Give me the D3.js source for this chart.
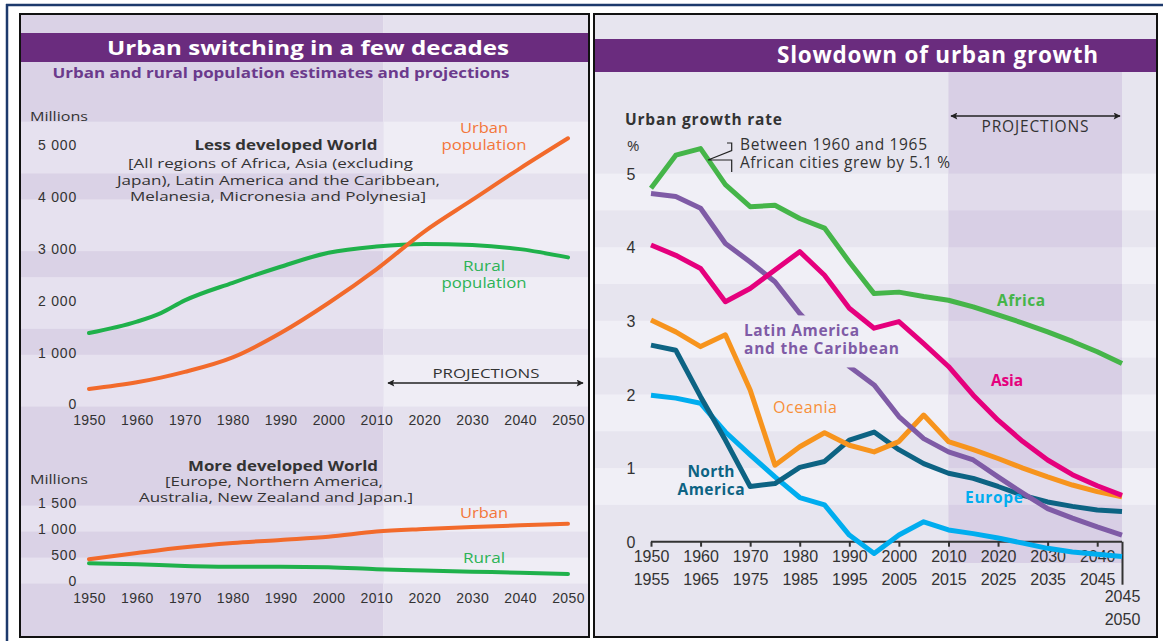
<!DOCTYPE html>
<html><head><meta charset="utf-8">
<script src="https://cdn.jsdelivr.net/npm/d3@7"></script>
<style>
html,body{margin:0;padding:0;background:#fff;}
svg{display:block;font-family:"Open Sans","Noto Sans",sans-serif;}
</style></head><body>
<svg id="chart" width="1163" height="641"></svg>
<script>
// ---------- LEFT PANEL DATA (millions) ----------
const yearsLess = [1950,1960,1965,1970,1980,1990,2000,2010,2020,2030,2040,2050];
const lessUrban = [290,420,510,620,900,1370,1950,2600,3330,3940,4550,5130];
const lessRural = [1370,1590,1755,2000,2340,2650,2920,3040,3090,3070,2990,2830];
const yearsMore = [1950,1960,1970,1980,1990,2000,2010,2020,2030,2040,2050];
const moreUrban = [420,540,650,730,790,850,950,1000,1040,1070,1100];
const moreRural = [340,320,290,275,275,265,225,200,180,160,135];
const yearTicks = [1950,1960,1970,1980,1990,2000,2010,2020,2030,2040,2050];
const lessTicks = [0,1000,2000,3000,4000,5000];
const moreTicks = [0,500,1000,1500];

// ---------- RIGHT PANEL DATA (urban growth rate, %, 5-year periods) ----------
const periods = [1950,1955,1960,1965,1970,1975,1980,1985,1990,1995,2000,2005,2010,2015,2020,2025,2030,2035,2040,2045];
const africa   = [4.80,5.25,5.34,4.85,4.55,4.57,4.39,4.26,3.80,3.37,3.39,3.33,3.28,3.19,3.08,2.97,2.85,2.72,2.58,2.42];
const latinAm  = [4.73,4.69,4.53,4.05,3.80,3.53,3.10,2.75,2.38,2.13,1.70,1.40,1.22,1.11,0.88,0.66,0.45,0.32,0.20,0.09];
const asia     = [4.03,3.89,3.71,3.26,3.44,3.69,3.94,3.62,3.17,2.90,2.99,2.69,2.38,1.99,1.65,1.36,1.11,0.91,0.76,0.63];
const oceania  = [3.01,2.85,2.65,2.81,2.06,1.04,1.29,1.48,1.31,1.22,1.36,1.72,1.36,1.25,1.13,1.00,0.88,0.77,0.68,0.61];
const northAm  = [2.67,2.60,1.97,1.38,0.75,0.79,1.01,1.09,1.38,1.49,1.25,1.06,0.93,0.86,0.75,0.63,0.54,0.48,0.43,0.41];
const europe   = [1.99,1.95,1.88,1.49,1.18,0.88,0.60,0.50,0.09,-0.16,0.09,0.27,0.16,0.11,0.05,-0.02,-0.09,-0.14,-0.17,-0.20];
const rateTicks = [0,1,2,3,4,5];
const periodTicks = [1950,1960,1970,1980,1990,2000,2010,2020,2030,2040,2045];

// ---------- COLOURS ----------
const C = {
  navy:"#1d3a6c", titleBand:"#6a2c7e", subtitle:"#6b3a8c", text:"#333333",
  urban:"#f26a2b", rural:"#1fb14b", urbanTxt:"#f3763a", ruralTxt:"#2cb356",
  histDark:"#dad2e6", histLight:"#e6e1ef", projDark:"#e5e1ee", projLight:"#efedf5",
  rBaseDark:"#e7e5ef", rBaseLight:"#f0eff6", rProjDark:"#d8cfe5", rProjLight:"#e1dbeb",
  africa:"#45b549", latin:"#7f5ba6", asia:"#e5007d", oceania:"#f7941d", oceaniaTxt:"#f7903a",
  northAm:"#0d6383", europe:"#00adef"
};

const svg = d3.select("#chart");
const spaceFmt = d3.formatLocale({decimal:".", thousands:" ", grouping:[3], currency:["",""]}).format(",d");

svg.append("rect").attr("width",1163).attr("height",641).attr("fill","#fff");

function txt(g, x, y, s, opt={}){
  const t = g.append("text").attr("x",x).attr("y",y).attr("dy","0.35em")
    .attr("text-anchor",opt.anchor||"middle").attr("font-size",opt.size||"13.5px")
    .attr("font-weight",opt.bold?"bold":null).attr("fill",opt.fill||C.text).text(s);
  if(opt.len) t.attr("textLength",opt.len).attr("lengthAdjust",opt.stretch?"spacingAndGlyphs":"spacing");
  return t;
}

// ================= LEFT PANEL =================
const L = {x0:20, x1:589, y0:14, y1:637};
const xL = d3.scaleLinear().domain([1950,2050]).range([89,568]);
const yU = d3.scaleLinear().domain([0,5000]).range([404,145]);
const yLo = d3.scaleLinear().domain([0,1500]).range([581,503]);
const projStartL = xL(2011.5);

const left = svg.append("g");
left.append("rect").attr("x",L.x0).attr("y",L.y0).attr("width",projStartL-L.x0).attr("height",L.y1-L.y0).attr("fill",C.histDark);
left.append("rect").attr("x",projStartL).attr("y",L.y0).attr("width",L.x1-projStartL).attr("height",L.y1-L.y0).attr("fill",C.projDark);
const upperBands = [[-50,950],[1450,2450],[2950,3950],[4450,5450]];
const lowerBands = [[-50,450],[950,1450]];
function leftBand(y, b){
  left.append("rect").attr("x",L.x0).attr("width",projStartL-L.x0)
    .attr("y",y(b[1])).attr("height",y(b[0])-y(b[1])).attr("fill",C.histLight);
  left.append("rect").attr("x",projStartL).attr("width",L.x1-projStartL)
    .attr("y",y(b[1])).attr("height",y(b[0])-y(b[1])).attr("fill",C.projLight);
}
upperBands.forEach(b=>leftBand(yU,b));
lowerBands.forEach(b=>leftBand(yLo,b));

left.append("rect").attr("x",L.x0).attr("y",33).attr("width",L.x1-L.x0).attr("height",29).attr("fill",C.titleBand);
const S = {stretch:true};
txt(left,308,48,"Urban switching in a few decades",{...S,fill:"#fff",bold:true,size:"20px",len:402});
txt(left,281,73,"Urban and rural population estimates and projections",{...S,fill:C.subtitle,bold:true,size:"14px",len:457});

// axes
function leftAxes(y, ticks, xAxisY){
  const gy = left.append("g").attr("transform","translate(77,0)")
    .call(d3.axisLeft(y).tickValues(ticks).tickSize(0).tickPadding(0).tickFormat(spaceFmt));
  gy.select(".domain").remove();
  gy.selectAll("text").attr("font-size","14px").attr("letter-spacing","0.8px").attr("fill",C.text).attr("font-family",null).attr("dy","0.35em");
  const gx = left.append("g").attr("transform",`translate(0,${xAxisY})`)
    .call(d3.axisBottom(xL).tickValues(yearTicks).tickSize(0).tickPadding(0).tickFormat(d3.format("d")));
  gx.select(".domain").remove();
  gx.selectAll("text").attr("font-size","14px").attr("letter-spacing","0.4px").attr("fill",C.text).attr("font-family",null).attr("y",0).attr("dy","0.35em");
}
leftAxes(yU, lessTicks, 420);
leftAxes(yLo, moreTicks, 598);

const lineU = (arrX, y) => d3.line().x((d,i)=>xL(arrX[i])).y(d=>y(d)).curve(d3.curveMonotoneX);
function drawL(arrX, vals, y, col){
  left.append("path").datum(vals).attr("d",lineU(arrX,y)).attr("fill","none")
    .attr("stroke",col).attr("stroke-width",4).attr("stroke-linejoin","round").attr("stroke-linecap","round");
}
drawL(yearsLess, lessRural, yU, C.rural);
drawL(yearsLess, lessUrban, yU, C.urban);
drawL(yearsMore, moreRural, yLo, C.rural);
drawL(yearsMore, moreUrban, yLo, C.urban);

txt(left,30,116,"Millions",{...S,anchor:"start",size:"13px",len:58});
txt(left,286,145,"Less developed World",{...S,bold:true,size:"14px",len:183});
txt(left,270.5,163,"[All regions of Africa, Asia (excluding",{...S,len:285});
txt(left,278.5,180,"Japan), Latin America and the Caribbean,",{...S,len:323});
txt(left,278,196,"Melanesia, Micronesia and Polynesia]",{...S,len:296});
txt(left,484,128,"Urban",{...S,fill:C.urbanTxt,size:"14px",len:48});
txt(left,484,145,"population",{...S,fill:C.urbanTxt,size:"14px",len:85});
txt(left,484,266,"Rural",{...S,fill:C.ruralTxt,size:"14px",len:42});
txt(left,484,283,"population",{...S,fill:C.ruralTxt,size:"14px",len:85});
txt(left,486,373,"PROJECTIONS",{...S,size:"13px",len:107});

txt(left,30,479,"Millions",{...S,anchor:"start",size:"13px",len:58});
txt(left,283,466,"More developed World",{...S,bold:true,size:"14px",len:190});
txt(left,274,481,"[Europe, Northern America,",{...S,len:218});
txt(left,276,497,"Australia, New Zealand and Japan.]",{...S,len:274});
txt(left,484,513,"Urban",{...S,fill:C.urbanTxt,size:"14px",len:48});
txt(left,484,558,"Rural",{...S,fill:C.ruralTxt,size:"14px",len:42});

// arrow markers
const defs = svg.append("defs");
defs.append("marker").attr("id","arrow").attr("viewBox","0 0 10 10").attr("refX",9).attr("refY",5)
  .attr("markerWidth",9).attr("markerHeight",7).attr("markerUnits","userSpaceOnUse").attr("orient","auto-start-reverse")
  .append("path").attr("d","M0,0 L10,5 L0,10 L2,5 Z").attr("fill","#222");
left.append("line").attr("x1",388).attr("x2",583).attr("y1",383).attr("y2",383)
  .attr("stroke","#222").attr("stroke-width",1.5).attr("marker-start","url(#arrow)").attr("marker-end","url(#arrow)");

left.append("rect").attr("x",L.x0).attr("y",L.y0).attr("width",L.x1-L.x0).attr("height",L.y1-L.y0)
  .attr("fill","none").attr("stroke","#111").attr("stroke-width",2);

// ================= RIGHT PANEL =================
const R = {x0:594, x1:1157, y0:14, y1:637};
const xR = d3.scaleLinear().domain([1950,2045]).range([651,1122]);
const yR = d3.scaleLinear().domain([0,5]).range([541.7,173.6]);
const right = svg.append("g");
right.append("rect").attr("x",R.x0).attr("y",R.y0).attr("width",R.x1-R.x0).attr("height",R.y1-R.y0).attr("fill",C.rBaseDark);
const rBands = [[0.5,1],[1.5,2],[2.5,3],[3.5,4],[4.5,5]];
rBands.forEach(b=>right.append("rect").attr("x",R.x0).attr("width",R.x1-R.x0)
  .attr("y",yR(b[1])).attr("height",yR(b[0])-yR(b[1])).attr("fill",C.rBaseLight));
const pX0 = xR(2010), pX1 = xR(2045);
right.append("rect").attr("x",pX0).attr("width",pX1-pX0).attr("y",72).attr("height",563-72).attr("fill",C.rProjDark);
rBands.forEach(b=>right.append("rect").attr("x",pX0).attr("width",pX1-pX0)
  .attr("y",yR(b[1])).attr("height",yR(b[0])-yR(b[1])).attr("fill",C.rProjLight));

right.append("rect").attr("x",R.x0).attr("y",39).attr("width",R.x1-R.x0).attr("height",33).attr("fill",C.titleBand);
txt(right,937.5,55,"Slowdown of urban growth",{fill:"#fff",bold:true,size:"22.5px",len:321});

txt(right,625,120,"Urban growth rate",{anchor:"start",bold:true,size:"15.5px",len:157});
txt(right,627,146,"%",{anchor:"start",size:"15px"});

// PROJECTIONS arrow
right.append("line").attr("x1",951).attr("x2",1120).attr("y1",116).attr("y2",116)
  .attr("stroke","#222").attr("stroke-width",1.5).attr("marker-start","url(#arrow)").attr("marker-end","url(#arrow)");
txt(right,1035,127,"PROJECTIONS",{size:"15.5px",len:107});

// y axis labels
const gyR = right.append("g").attr("transform","translate(631,0)")
  .call(d3.axisLeft(yR).tickValues(rateTicks).tickSize(0).tickPadding(0).tickFormat(d3.format("d")));
gyR.select(".domain").remove();
gyR.selectAll("text").attr("text-anchor","middle").attr("font-size","16px").attr("fill",C.text).attr("font-family",null).attr("dy","0.35em");

// x axis
const gxR = right.append("g").attr("transform",`translate(0,${yR(0)})`)
  .call(d3.axisBottom(xR).tickValues(periodTicks).tickSize(5).tickSizeOuter(0).tickFormat(""));
gxR.select(".domain").attr("stroke","#333").attr("stroke-width",2).attr("d",`M${xR(1950)},0H${xR(2045)}`);
gxR.selectAll(".tick line").attr("stroke","#333").attr("stroke-width",2)
  .attr("y2",d=>d===2045?43:5);
gxR.selectAll(".tick text").remove();
gxR.selectAll(".tick").each(function(d){
  const t = d3.select(this).append("text").attr("text-anchor","middle").attr("font-size","16px").attr("fill",C.text)
    .attr("y", d===2045?55:15);
  t.append("tspan").attr("x",0).attr("dy","0.35em").text(d);
  t.append("tspan").attr("x",0).attr("dy","1.4em").text(d+5);
});

// lines
const lineR = d3.line().x((d,i)=>xR(periods[i])).y(d=>yR(d));
const lines = right.append("g");
function drawR(vals, col, mask){
  const p = lines.append("path").datum(vals).attr("d",lineR).attr("fill","none").attr("stroke",col)
    .attr("stroke-width",5).attr("stroke-linejoin","round").attr("stroke-linecap","butt");
  if(mask) p.attr("mask",mask);
}

// labels
const lab = right.append("g");
function rl(x,y,s,col,len,opt={}){ return txt(lab,x,y,s,Object.assign({fill:col,bold:true,size:"15.5px",len:len},opt)); }
const latinLab = lab.append("g");
txt(latinLab,744,331,"Latin America",{anchor:"start",bold:true,size:"15.5px",fill:C.latin,len:115});
txt(latinLab,744,349,"and the Caribbean",{anchor:"start",bold:true,size:"15.5px",fill:C.latin,len:155});
rl(1021,301,"Africa",C.africa,48);
rl(1007,381,"Asia",C.asia,32);
rl(805,407,"Oceania",C.oceaniaTxt,64,{bold:false,size:"16px"});
rl(711,472,"North",C.northAm,47);
rl(711,490,"America",C.northAm,67);
rl(994,498,"Europe",C.europe,58);

const bb = latinLab.node().getBBox();
const m = defs.append("mask").attr("id","latinMask").attr("maskUnits","userSpaceOnUse")
  .attr("x",0).attr("y",0).attr("width",1163).attr("height",641);
m.append("rect").attr("width",1163).attr("height",641).attr("fill","#fff");
m.append("rect").attr("x",bb.x-4).attr("y",bb.y-4).attr("width",bb.width+8).attr("height",bb.height+12).attr("fill","#000");

drawR(europe, C.europe);
drawR(northAm, C.northAm);
drawR(oceania, C.oceania);
drawR(latinAm, C.latin, "url(#latinMask)");
drawR(asia, C.asia);
drawR(africa, C.africa);

// annotation
txt(right,740,145,"Between 1960 and 1965",{anchor:"start",size:"15.5px",len:187});
txt(right,740,163,"African cities grew by 5.1 %",{anchor:"start",size:"15.5px",len:210});
right.append("path").attr("d","M727,143H731.7V150.5L708,160H731.7V172").attr("fill","none").attr("stroke","#222").attr("stroke-width",1.2);

right.append("rect").attr("x",R.x0).attr("y",R.y0).attr("width",R.x1-R.x0).attr("height",R.y1-R.y0)
  .attr("fill","none").attr("stroke","#111").attr("stroke-width",2);

// outer navy frame
svg.append("line").attr("x1",6).attr("x2",1163).attr("y1",5).attr("y2",5).attr("stroke",C.navy).attr("stroke-width",2.5);
svg.append("line").attr("x1",7).attr("x2",7).attr("y1",4).attr("y2",641).attr("stroke",C.navy).attr("stroke-width",2.5);
</script>
</body></html>
